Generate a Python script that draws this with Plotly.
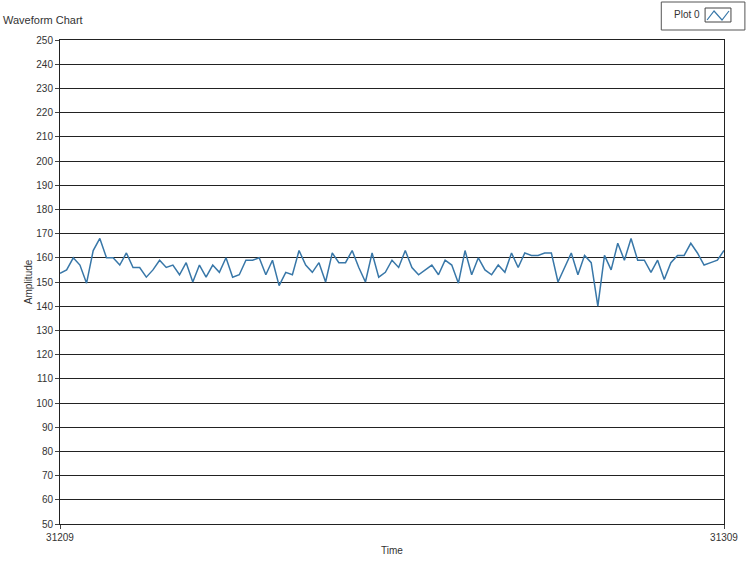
import plotly.graph_objects as go

x_start = 31209
amplitude = [153.6, 155, 160, 157, 149.5, 163, 168, 160, 160, 157,
             162, 156, 156, 152, 155, 159, 156, 157, 153, 158,
             150, 157, 152, 157, 154, 160, 152, 153, 159, 159,
             160, 153, 159, 148.5, 154, 153, 163, 157, 154, 158,
             150, 162, 158, 158, 163, 156, 150, 162, 152, 154,
             159, 156, 163, 156, 153, 155, 157, 153, 159, 157,
             149.5, 163, 153, 160, 155, 153, 157, 154, 162, 156,
             162, 161, 161, 162, 162, 150, 156, 162, 153, 161,
             158, 140, 161, 155, 166, 159, 168, 159, 159, 154,
             159, 151, 158, 161, 161, 166, 162, 157, 158, 159, 163]
time = [x_start + i for i in range(len(amplitude))]
x_ticks = [31209, 31309]
y_range = [50, 250]

W, H = 750, 567
L, R, T, B = 60, 23, 40, 43
pw, ph = W - L - R, H - T - B

def px(xp):
    return (xp - L) / pw

def py(yp):
    return (H - B - yp) / ph

font = "Liberation Sans"
txt = "#333333"

fig = go.Figure()
fig.add_trace(go.Scatter(x=time, y=amplitude, mode="lines",
                         line=dict(color="#3877A8", width=1.5),
                         name="Plot 0", showlegend=False))

fig.update_layout(
    width=W, height=H, autosize=False,
    margin=dict(l=L, r=R, t=T, b=B),
    paper_bgcolor="white", plot_bgcolor="white",
    font=dict(family=font, size=10, color=txt),
    xaxis=dict(range=[time[0], time[-1]], tickvals=x_ticks,
               ticktext=[str(v) for v in x_ticks],
               showgrid=False, zeroline=False,
               showline=True, mirror=True, linecolor="#222", linewidth=1,
               ticks="outside", ticklen=4, tickcolor="#444",
               tickfont=dict(size=10, color=txt, family=font)),
    yaxis=dict(range=y_range, dtick=10, tick0=50,
               showgrid=True, gridcolor="#222", gridwidth=1, zeroline=False,
               showline=True, mirror=True, linecolor="#222", linewidth=1,
               ticks="outside", ticklen=4, tickcolor="#444",
               tickfont=dict(size=10, color=txt, family=font)),
)

annotations = [
    dict(text="Waveform Chart", xref="paper", yref="paper", x=px(1), y=py(20),
         xanchor="left", yanchor="middle", showarrow=False,
         font=dict(size=11, color=txt, family=font)),
    dict(text="Amplitude", xref="paper", yref="paper", x=px(28), y=py(282),
         xanchor="center", yanchor="middle", textangle=-90, showarrow=False,
         font=dict(size=10, color=txt, family=font)),
    dict(text="Time", xref="paper", yref="paper", x=px(393), y=py(550),
         xanchor="center", yanchor="middle", showarrow=False,
         font=dict(size=10, color=txt, family=font)),
    dict(text="Plot 0", xref="paper", yref="paper", x=px(675), y=py(14),
         xanchor="left", yanchor="middle", showarrow=False,
         font=dict(size=10, color=txt, family=font)),
]

shapes = [
    dict(type="rect", xref="paper", yref="paper",
         x0=px(664), x1=px(748), y0=py(30), y1=py(2),
         line=dict(color="#555", width=1), fillcolor="white"),
    dict(type="rect", xref="paper", yref="paper",
         x0=px(708), x1=px(734), y0=py(22), y1=py(8),
         line=dict(color="#444", width=1), fillcolor="white"),
    dict(type="path", xref="paper", yref="paper",
         path=f"M {px(710)},{py(20)} L {px(717)},{py(11)} L {px(725)},{py(20)} L {px(732)},{py(11)}",
         line=dict(color="#3877A8", width=1.2)),
]

fig.update_layout(annotations=annotations, shapes=shapes)
fig.write_html("out.html", config={"displayModeBar": False},
               post_script="document.body.style.margin='0';document.body.style.overflow='hidden';")
